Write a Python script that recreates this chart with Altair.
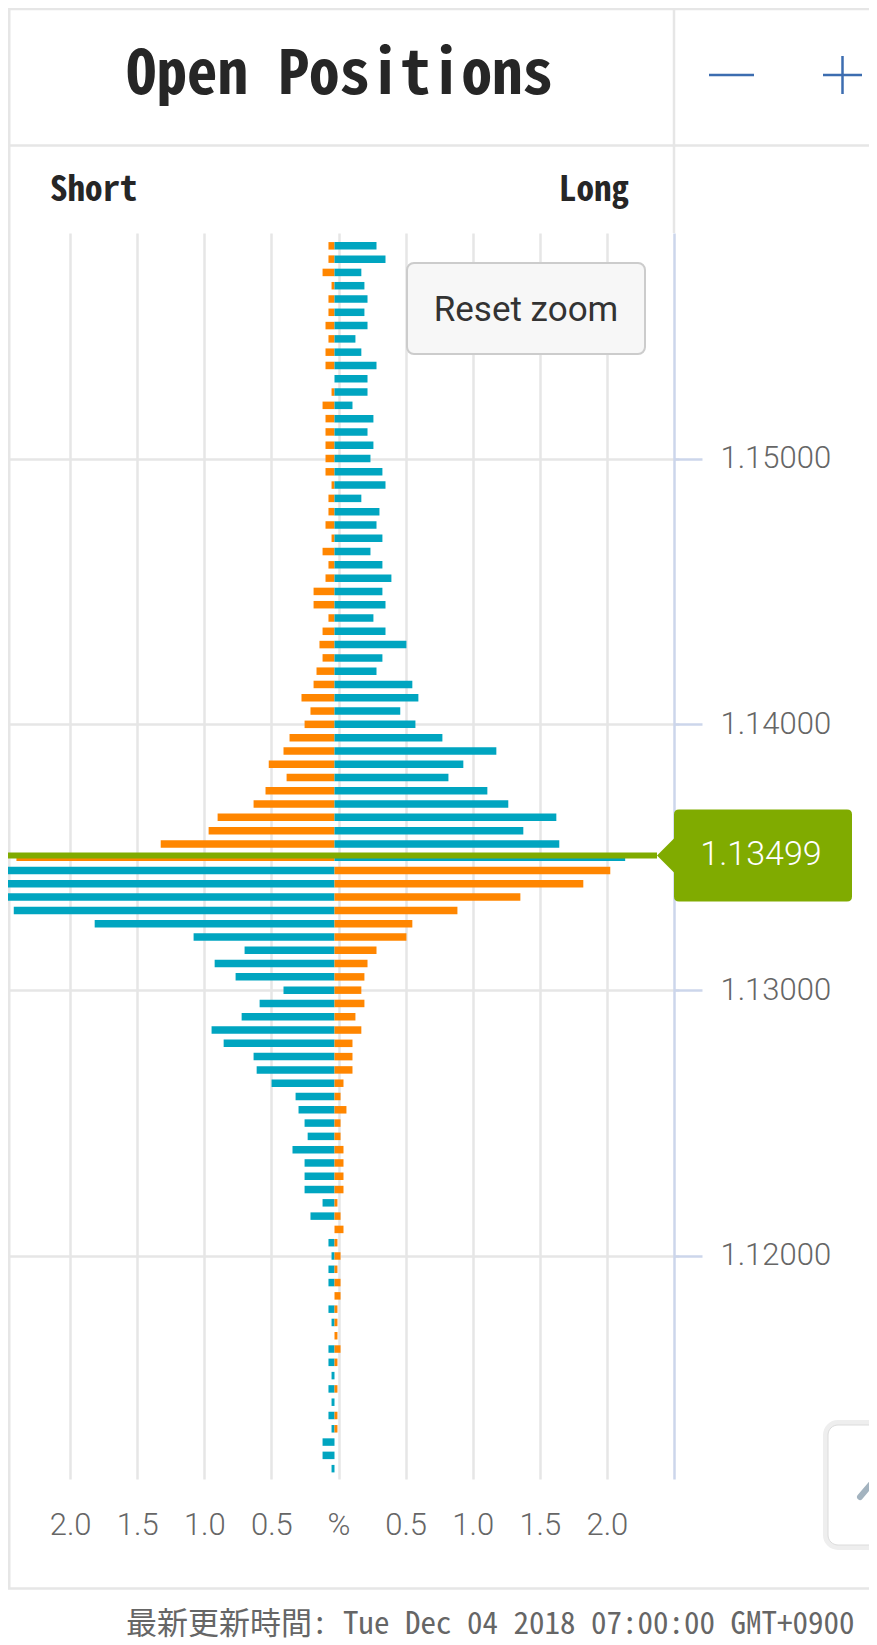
import altair as alt
import pandas as pd

# ---------------- data ----------------
PRICES = [1.1580, 1.1575, 1.1570, 1.1565, 1.1560, 1.1555, 1.1550, 1.1545, 1.1540, 1.1535,
          1.1530, 1.1525, 1.1520, 1.1515, 1.1510, 1.1505, 1.1500, 1.1495, 1.1490, 1.1485,
          1.1480, 1.1475, 1.1470, 1.1465, 1.1460, 1.1455, 1.1450, 1.1445, 1.1440, 1.1435,
          1.1430, 1.1425, 1.1420, 1.1415, 1.1410, 1.1405, 1.1400, 1.1395, 1.1390, 1.1385,
          1.1380, 1.1375, 1.1370, 1.1365, 1.1360, 1.1355, 1.1350,
          1.1345, 1.1340, 1.1335, 1.1330, 1.1325, 1.1320, 1.1315, 1.1310, 1.1305, 1.1300,
          1.1295, 1.1290, 1.1285, 1.1280, 1.1275, 1.1270, 1.1265, 1.1260, 1.1255, 1.1250,
          1.1245, 1.1240, 1.1235, 1.1230, 1.1225, 1.1220, 1.1215, 1.1210, 1.1205, 1.1200,
          1.1195, 1.1190, 1.1185, 1.1180, 1.1175, 1.1170, 1.1165, 1.1160, 1.1155, 1.1150,
          1.1145, 1.1140, 1.1135, 1.1130, 1.1125, 1.1120]

SHORT = [0.045, 0.045, 0.089, 0.022, 0.045, 0.045, 0.067, 0.045, 0.067, 0.067,
         0.000, 0.022, 0.089, 0.067, 0.067, 0.067, 0.067, 0.067, 0.022, 0.045,
         0.045, 0.067, 0.022, 0.089, 0.045, 0.067, 0.156, 0.156, 0.045, 0.089,
         0.112, 0.089, 0.134, 0.156, 0.246, 0.179, 0.223, 0.335, 0.380, 0.490,
         0.357, 0.514, 0.603, 0.871, 0.938, 1.295, 2.370,
         2.600, 2.750, 2.550, 2.390, 1.787, 1.050, 0.670, 0.893, 0.737, 0.380,
         0.558, 0.692, 0.916, 0.826, 0.603, 0.580, 0.469, 0.290, 0.268, 0.223,
         0.200, 0.313, 0.223, 0.223, 0.223, 0.089, 0.179, 0.000, 0.045, 0.022,
         0.045, 0.045, 0.000, 0.045, 0.022, 0.000, 0.045, 0.045, 0.022, 0.045,
         0.022, 0.045, 0.022, 0.089, 0.089, 0.022]

LONG = [0.313, 0.380, 0.200, 0.223, 0.246, 0.223, 0.246, 0.156, 0.200, 0.313,
        0.246, 0.246, 0.134, 0.290, 0.246, 0.290, 0.268, 0.357, 0.380, 0.200,
        0.335, 0.313, 0.357, 0.268, 0.357, 0.424, 0.357, 0.380, 0.290, 0.380,
        0.536, 0.357, 0.313, 0.580, 0.625, 0.490, 0.603, 0.804, 1.206, 0.960,
        0.849, 1.139, 1.295, 1.653, 1.407, 1.675, 2.166,
        2.055, 1.854, 1.385, 0.916, 0.580, 0.536, 0.313, 0.246, 0.223, 0.200,
        0.223, 0.156, 0.200, 0.134, 0.134, 0.134, 0.067, 0.045, 0.089, 0.045,
        0.045, 0.067, 0.067, 0.067, 0.067, 0.022, 0.045, 0.067, 0.022, 0.045,
        0.022, 0.045, 0.045, 0.022, 0.022, 0.022, 0.045, 0.022, 0.000, 0.022,
        0.000, 0.022, 0.022, 0.000, 0.000, 0.000]

CURRENT = 1.13499
X_TICKS = [-2.0, -1.5, -1.0, -0.5, 0.0, 0.5, 1.0, 1.5, 2.0]
Y_TICKS = [1.12, 1.13, 1.14, 1.15]

TITLE = "Open Positions"
LEFT_LABEL = "Short"
RIGHT_LABEL = "Long"
BUTTON = "Reset zoom"
FOOTER = "最新更新時間: Tue Dec 04 2018 07:00:00 GMT+0900"

# ---------------- styles ----------------
ORANGE = "#ff8600"
TEAL = "#00a5c0"
GREEN = "#80ab00"
GRID = "#e6e6e6"
AXIS = "#ccd6eb"
BLUE = "#3c6db0"
MONO = "'Noto Sans Mono CJK JP', 'Noto Sans CJK JP', 'DejaVu Sans Mono', monospace"

W, H = 666, 1246
TOTAL_W, TOTAL_H = 861, 1637

rows = []
for p, s, l in zip(PRICES, SHORT, LONG):
    above = p > CURRENT
    rows.append(dict(price=p, side="short", base=0.0, signed=-s, value=s,
                     tone="orange" if above else "teal"))
    rows.append(dict(price=p, side="long", base=0.0, signed=l, value=l,
                     tone="teal" if above else "orange"))
bars_df = pd.DataFrame(rows)
bars_df = bars_df[bars_df["value"] > 0]

cur_df = pd.DataFrame({"price": [CURRENT]})
deco_df = pd.DataFrame({"k": [0]})

x_scale = alt.Scale(domain=[-2.5, 2.5], range=[-5, W], nice=False, zero=False)
y_scale = alt.Scale(domain=[1.111611, 1.158483], nice=False, zero=False)

x_axis = alt.Axis(values=X_TICKS,
                  labelExpr="datum.value == 0 ? '%' : format(abs(datum.value), '.1f')",
                  grid=True, gridColor=GRID, gridWidth=2.5,
                  domain=False, ticks=False, tickSize=0,
                  labelPadding=46, labelBaseline="middle",
                  labelFont="Roboto", labelFontSize=31, labelFontWeight=300,
                  labelColor="#666666", labelFlush=False, labelOverlap=False,
                  title=None)
y_axis = alt.Axis(orient="right", values=Y_TICKS, format=".5f",
                  grid=True, gridColor=GRID, gridWidth=2.5,
                  domainColor=AXIS, domainWidth=2.5,
                  tickColor=AXIS, tickWidth=2.5, tickSize=28,
                  labelPadding=18, labelAlign="left", labelBaseline="middle",
                  labelFont="Roboto", labelFontSize=31, labelFontWeight=300,
                  labelColor="#666666", labelOverlap=False, title=None)

bars = alt.Chart(bars_df).mark_rule(
    strokeWidth=7.5, clip=True, xOffset=-4, x2Offset=-4
).encode(
    x=alt.X("base:Q", scale=x_scale, axis=x_axis),
    x2="signed:Q",
    y=alt.Y("price:Q", scale=y_scale, axis=y_axis),
    color=alt.Color("tone:N", scale=alt.Scale(domain=["orange", "teal"],
                                              range=[ORANGE, TEAL]), legend=None),
)

cur_line = alt.Chart(cur_df).mark_rule(color=GREEN, strokeWidth=6, yOffset=-2).encode(
    y=alt.Y("price:Q", title=None), x=alt.value(0), x2=alt.value(649)
)

TAG_PATH = ("M0,0 L17,-17 L17,-41 Q17,-46 22,-46 L190,-46 Q195,-46 195,-41 "
            "L195,41 Q195,46 190,46 L22,46 Q17,46 17,41 L17,17 Z")
tag = alt.Chart(cur_df).mark_point(
    shape=TAG_PATH, size=4, filled=True, color=GREEN, opacity=1, strokeWidth=0, yOffset=-2
).encode(y=alt.Y("price:Q", title=None), x=alt.value(649))

tag_text = alt.Chart(cur_df).mark_text(
    font="Roboto", fontSize=34, fontWeight=300, color="white",
    align="center", baseline="middle", yOffset=-3
).encode(y=alt.Y("price:Q", title=None), x=alt.value(753),
         text=alt.Text("price:Q", format=".5f"))


def hline(x1, x2, y, color=GRID, w=2.5):
    return alt.Chart(deco_df).mark_rule(color=color, strokeWidth=w).encode(
        x=alt.value(x1), x2=alt.value(x2), y=alt.value(y))


def vline(x, y1, y2, color=GRID, w=2.5):
    return alt.Chart(deco_df).mark_rule(color=color, strokeWidth=w).encode(
        x=alt.value(x), y=alt.value(y1), y2=alt.value(y2))


def label(text, x, y, **kw):
    return alt.Chart(deco_df).mark_text(text=text, **kw).encode(
        x=alt.value(x), y=alt.value(y))


frame = [
    hline(0, TOTAL_W, -224),        # top border
    vline(1.25, -225, 1356),        # left border
    hline(0, TOTAL_W, -87.5),       # header separator
    vline(666, -225, 0),            # vertical separator
    hline(0, TOTAL_W, 1355.5),      # bottom border
]

header = [
    label(TITLE, 331.5, -157, font=MONO, fontSize=61, fontWeight="bold",
          color="#262626", align="center", baseline="middle"),
    hline(701, 746, -158, color=BLUE, w=2.5),
    hline(815, 854, -158, color=BLUE, w=2.5),
    vline(834.5, -177, -139, color=BLUE, w=2.5),
    label(LEFT_LABEL, 42, -43, font=MONO, fontSize=35, fontWeight="bold",
          color="#262626", align="left", baseline="middle"),
    label(RIGHT_LABEL, 621, -43, font=MONO, fontSize=35, fontWeight="bold",
          color="#262626", align="right", baseline="middle"),
]

button = [
    alt.Chart(deco_df).mark_rect(cornerRadius=7, fill="#f7f7f7", stroke="#cccccc",
                                 strokeWidth=2).encode(
        x=alt.value(399), x2=alt.value(637), y=alt.value(30), y2=alt.value(121)),
    label(BUTTON, 518, 77, font="Roboto", fontSize=35, color="#333333",
          align="center", baseline="middle"),
]

widget = [
    alt.Chart(deco_df).mark_rect(cornerRadius=12, fill="white", stroke="#eeeeee",
                                 strokeWidth=6).encode(
        x=alt.value(818), x2=alt.value(890), y=alt.value(1190), y2=alt.value(1314)),
    alt.Chart(deco_df).mark_rect(cornerRadius=10, fill="white", stroke="#dcdcdc",
                                 strokeWidth=1).encode(
        x=alt.value(820), x2=alt.value(890), y=alt.value(1192), y2=alt.value(1312)),
    alt.Chart(deco_df).mark_rule(color="#a3b3bf", strokeWidth=6, strokeCap="round").encode(
        x=alt.value(852), x2=alt.value(869), y=alt.value(1264), y2=alt.value(1244)),
]

footer = [
    label(FOOTER, 118, 1392, font=MONO, fontSize=31, color="#666666",
          align="left", baseline="middle"),
]

chart = alt.layer(
    *frame, *header, bars, cur_line, tag, tag_text, *button, *widget, *footer
).properties(
    width=W, height=H,
    autosize=alt.AutoSizeParams(type="none"),
    padding={"left": 0, "top": 225, "right": TOTAL_W - W, "bottom": TOTAL_H - 225 - H},
    background="white",
).configure_view(stroke=None)

chart.save("out.html", embed_options={"renderer": "svg", "actions": False})
